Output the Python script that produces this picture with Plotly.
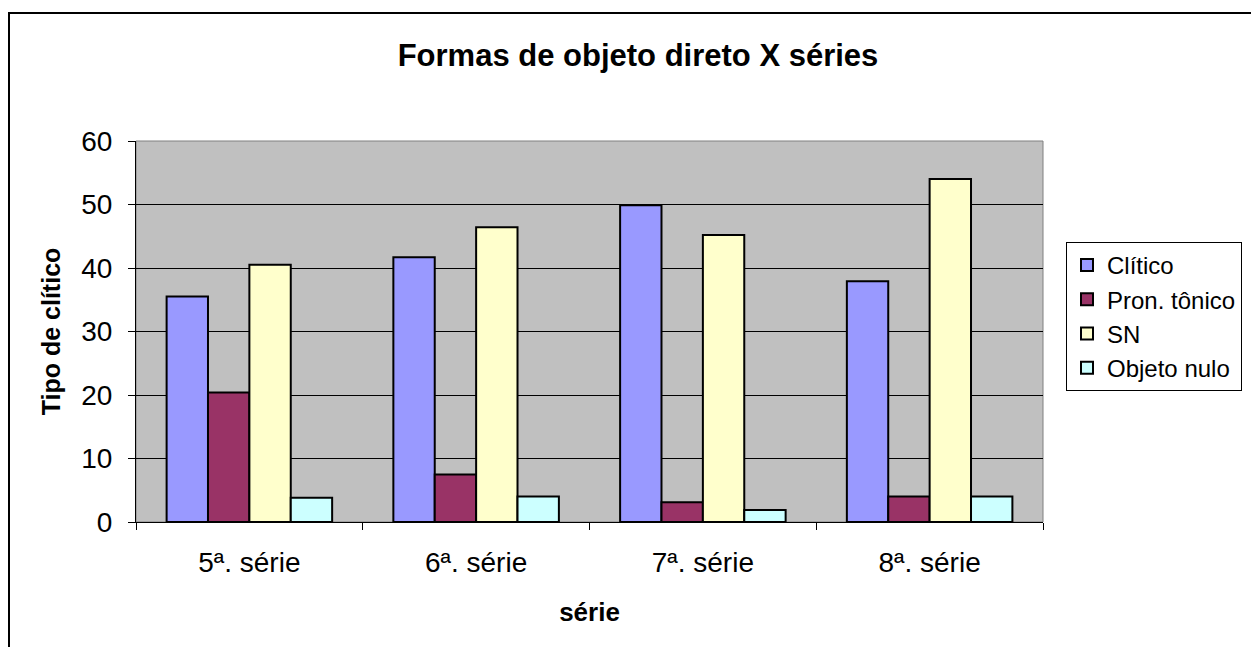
import plotly.graph_objects as go

categories = ["5ª. série", "6ª. série", "7ª. série", "8ª. série"]
series_names = ["Clítico", "Pron. tônico", "SN", "Objeto nulo"]
clitico = [35.5, 41.7, 49.9, 37.9]
pron_tonico = [20.4, 7.5, 3.1, 4.0]
sn = [40.5, 46.4, 45.2, 54.0]
objeto_nulo = [3.8, 4.0, 1.9, 4.0]
colors = ["#9999FF", "#993366", "#FFFFCC", "#CCFFFF"]

FONT = "Liberation Sans, Arial, sans-serif"

fig = go.Figure()
for name, vals, col in zip(series_names, [clitico, pron_tonico, sn, objeto_nulo], colors):
    fig.add_trace(go.Bar(
        x=categories, y=vals, name=name,
        marker=dict(color=col, line=dict(color="black", width=2)),
    ))

# page body has an 8px margin; figure is sized/offset to compensate
OFF = 8
W, H = 1259 - OFF, 647 - OFF
L, T = 136 - OFF, 141 - OFF
R = W - (1043 - OFF)
B = H - (522 - OFF)
pw, ph = W - L - R, H - T - B

def px2paper_x(sx):
    return (sx - OFF - L) / pw

def px2paper_y(sy):
    return (H - B - (sy - OFF)) / ph

fig.update_layout(
    width=W, height=H,
    margin=dict(l=L, r=R, t=T, b=B, pad=0, autoexpand=False),
    paper_bgcolor="white",
    plot_bgcolor="#C0C0C0",
    barmode="group",
    bargap=0.27,
    bargroupgap=0,
    font=dict(family=FONT, size=28, color="black"),
    title=dict(text="<b>Formas de objeto direto X séries</b>", x=px2paper_x(638), xref="paper",
               xanchor="center", y=1 - (55 - OFF) / H, yanchor="middle",
               font=dict(size=31, family=FONT)),
    legend=dict(x=px2paper_x(1066), y=px2paper_y(242), xanchor="left", yanchor="top",
                bordercolor="black", borderwidth=1, bgcolor="white",
                font=dict(size=24, family=FONT), itemwidth=30, tracegroupgap=0),
    showlegend=True,
)
fig.update_xaxes(
    showline=True, linecolor="black", linewidth=1,
    ticks="outside", tickson="boundaries", ticklen=7, tickcolor="black",
    tickfont=dict(size=28), showgrid=False, ticklabelstandoff=15,
    title=dict(text="<b>série</b>", font=dict(size=26), standoff=26),
)
fig.update_yaxes(
    range=[0, 60], dtick=10, showline=True, linecolor="black", linewidth=1,
    ticks="outside", ticklen=7, tickcolor="black",
    showgrid=True, gridcolor="black", gridwidth=1,
    tickfont=dict(size=28), zeroline=False, ticklabelstandoff=10,
    title=dict(text="<b>Tipo de clítico</b>", font=dict(size=25), standoff=13),
)
# plot area border
fig.add_shape(type="rect", xref="paper", yref="paper", x0=0, y0=0, x1=1, y1=1,
              line=dict(color="#808080", width=1), layer="below")
# outer chart border
fig.add_shape(type="rect", xref="paper", yref="paper",
              x0=px2paper_x(9), y0=px2paper_y(670), x1=px2paper_x(1290), y1=px2paper_y(13),
              line=dict(color="black", width=2))

fig.write_html("out.html")
